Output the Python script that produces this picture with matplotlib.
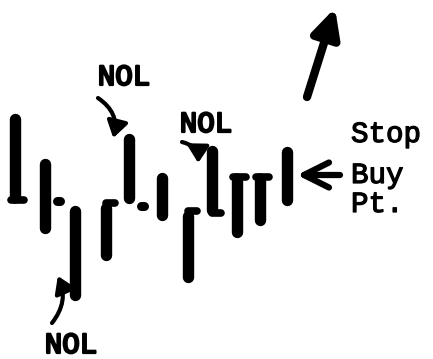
import matplotlib
matplotlib.use('Agg')
import matplotlib.pyplot as plt
import matplotlib.patheffects as pe
from matplotlib.transforms import offset_copy

# price bars (hand drawn, arbitrary price units)
days = [0, 1.1, 2.2, 3.35, 4.2, 5.4, 6.35, 7.25, 8.15, 9.0, 10.0]
highs = [246, 201, 154, 157, 226, 187, 149, 214, 184, 184, 213]
lows = [157, 126, 59, 99, 156, 139, 77, 144, 122, 134, 154]
opens = [159, None, None, None, None, None, None, None, 182, 182, None]
closes = [159, 158, None, 156, 153, None, 148, 146, 182, 182, None]

nol_label = 'NOL'
stop_label = ['Stop', 'Buy', 'Pt.']

W, H = 433, 359
PX = 27.2  # pixels per day

fig = plt.figure(figsize=(W / 100, H / 100), dpi=100)
ax = fig.add_axes([0, 0, 1, 1])
ax.set_xlim(-15 / PX, (W - 15) / PX)
ax.set_ylim(0, H)
ax.axis('off')

bar_lw = 8.2
tick_lw = 5.5
cap = 5.5
detached = {1, 4}  # close ticks drawn apart from the bar

for i, d in enumerate(days):
    ax.plot([d, d], [lows[i] + cap, highs[i] - cap], color='black',
            lw=bar_lw, solid_capstyle='round')
    if closes[i] is not None:
        if i in detached:
            x0, x1 = d + 12 / PX, d + 15 / PX
            lw = 6.5
        else:
            x0, x1 = d, d + 9 / PX
            lw = tick_lw
        ax.plot([x0, x1], [closes[i], closes[i]], color='black', lw=lw,
                solid_capstyle='round')
    if opens[i] is not None:
        ax.plot([d - 4 / PX, d], [opens[i], opens[i]], color='black',
                lw=tick_lw, solid_capstyle='round')

nol_font = dict(family='Liberation Mono', fontsize=21, color='black',
                path_effects=[pe.withStroke(linewidth=1.6, foreground='black')])
stop_font = dict(family='Liberation Mono', fontsize=21, color='black',
                 path_effects=[pe.withStroke(linewidth=0.9, foreground='black')])

# NOL labels
fig.text(124 / W, 1 - 77 / H, nol_label, ha='center', va='center', **nol_font)
fig.text(206 / W, 1 - 124 / H, nol_label, ha='center', va='center', **nol_font)
fig.text(71 / W, 1 - 345 / H, nol_label, ha='center', va='center', **nol_font)

# Stop Buy Pt.
for txt, base in zip(stop_label, [142, 183, 212]):
    fig.text(351 / W, 1 - base / H, txt, ha='left', va='baseline', **stop_font)

curved = dict(arrowstyle='-|>,head_length=0.7,head_width=0.45',
              color='black', lw=3, mutation_scale=14,
              shrinkA=0, shrinkB=0)


def anchor(dx, dy):
    return offset_copy(ax.transData, fig=fig, x=dx, y=dy, units='dots')


# arrows from the NOL labels to the bars
ax.annotate('', xy=(days[4], highs[4]), xycoords=anchor(-16, -5),
            xytext=(98, H - 98), textcoords='figure pixels',
            arrowprops=dict(connectionstyle='arc3,rad=-0.35', **curved))
ax.annotate('', xy=(days[7], highs[7]), xycoords=anchor(-14, -18),
            xytext=(182, H - 142), textcoords='figure pixels',
            arrowprops=dict(connectionstyle='arc3,rad=-0.4', **curved))
ax.annotate('', xy=(days[2], lows[2]), xycoords=anchor(-17, 24),
            xytext=(52, H - 323), textcoords='figure pixels',
            arrowprops=dict(connectionstyle='arc3,rad=0.3', **curved))

# stop buy point arrow
ax.annotate('', xy=(days[10], highs[10]), xycoords=anchor(10, -29),
            xytext=(340, H - 175), textcoords='figure pixels',
            arrowprops=dict(arrowstyle='->,head_length=0.9,head_width=0.45',
                            color='black', lw=4.5, mutation_scale=20,
                            shrinkA=0, shrinkB=0, capstyle='round',
                            joinstyle='round'))

# big up arrow
ax.annotate('', xy=(335, H - 8), xycoords='figure pixels',
            xytext=(307, H - 97), textcoords='figure pixels',
            arrowprops=dict(arrowstyle='-|>,head_length=0.6,head_width=0.3',
                            color='black', lw=6, mutation_scale=28,
                            shrinkA=0, shrinkB=0, joinstyle='round',
                            capstyle='round'))

plt.savefig('out.png', dpi=100)
plt.close()
